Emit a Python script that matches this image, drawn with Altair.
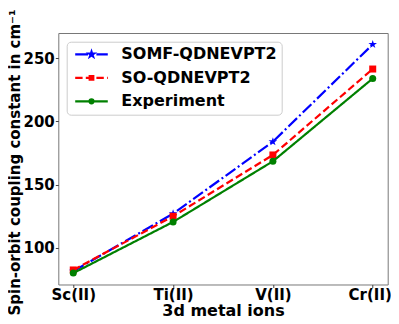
import math
import altair as alt
import pandas as pd

# ---- data ----
ions = ["Sc(II)", "Ti(II)", "V(II)", "Cr(II)"]
series_names = ["SOMF-QDNEVPT2", "SO-QDNEVPT2", "Experiment"]
somf = [81.5, 127.0, 184.0, 261.0]
so = [82.5, 125.0, 173.5, 241.5]
exp = [80.0, 120.5, 168.5, 234.0]
y_ticks = [100, 150, 200, 250]

# ---- styles ----
colors = ["#0000ff", "#ff0000", "#008000"]
dashes = [[12, 3, 2, 3], [7.5, 3.5], [1, 0]]


def star_path(cx=0.0, r=1.0, inner=0.382):
    pts = []
    for k in range(10):
        ang = math.radians(-90 + 36 * k)
        rr = r if k % 2 == 0 else r * inner
        pts.append((cx + rr * math.cos(ang), rr * math.sin(ang)))
    return "M" + "L".join(f"{x:.3f},{y:.3f}" for x, y in pts) + "Z"


def square_path(cx, h):
    return f"M{cx-h:.3f},{-h:.3f}L{cx+h:.3f},{-h:.3f}L{cx+h:.3f},{h:.3f}L{cx-h:.3f},{h:.3f}Z"


def circle_path(cx, r):
    return (f"M{cx+r:.3f},0A{r:.3f},{r:.3f} 0 1,1 {cx-r:.3f},0"
            f"A{r:.3f},{r:.3f} 0 1,1 {cx+r:.3f},0Z")


def segs(lst):
    return "".join(f"M{a:.3f},0L{b:.3f},0" for a, b in lst)


mc = 3.05  # legend marker centre (path units, 4px per unit)
legend_paths = [
    segs([(-1.025, 2.175), (4.275, 7.125)]) + star_path(mc, 0.65),
    segs([(-1.025, 0.825), (1.625, 3.475), (4.275, 6.125), (6.925, 7.125)]) + square_path(mc, 0.45),
    segs([(-1.025, 7.125)]) + circle_path(mc, 0.5),
]
marker_shapes = [star_path(0, 1.0), "square", "circle"]
marker_sizes = [81, 49, 49]

rows = []
for name, vals in zip(series_names, [somf, so, exp]):
    for ion, v in zip(ions, vals):
        rows.append({"ion": ion, "value": v, "series": name})
df = pd.DataFrame(rows)

base = alt.Chart(df)

x = alt.X(
    "ion:N",
    sort=ions,
    scale=alt.Scale(type="point", padding=0.15, domain=ions),
    axis=alt.Axis(
        title="3d metal ions",
        labelAngle=0,
        labelPadding=0,
        titlePadding=0,
        labelOffset={"condition": {"test": "datum.value === 'Cr(II)'", "value": -3}, "value": 0},
    ),
)
y = alt.Y(
    "value:Q",
    scale=alt.Scale(domain=[71, 270], nice=False, zero=False),
    axis=alt.Axis(
        title="Spin-orbit coupling constant in cm⁻¹",
        values=y_ticks,
        labelPadding=1,
        titlePadding=0,
        titleFontSize=15,
        titleY=129,
    ),
)

layers = []
for name, col, dash, shp, sz in zip(series_names, colors, dashes, marker_shapes, marker_sizes):
    sub = base.transform_filter(alt.datum.series == name)
    layers.append(
        sub.mark_line(color=col, strokeDash=dash, strokeWidth=2.2).encode(x=x, y=y)
    )
    layers.append(
        sub.mark_point(filled=True, opacity=1, color=col, shape=shp, size=sz, strokeWidth=0).encode(x=x, y=y)
    )

leg = alt.Legend(
    title=None,
    orient="none",
    legendX=8.4,
    legendY=8.7,
    symbolSize=64,
    symbolStrokeWidth=2.2,
    labelFont="DejaVu Sans",
    labelFontSize=16,
    labelFontWeight="bold",
    labelColor="black",
    labelOffset=34,
    labelLimit=400,
    rowPadding=7.5,
    padding=4.6,
    fillColor="rgba(255,255,255,0.8)",
    strokeColor="#cccccc",
    cornerRadius=4,
)

legend_layer = base.transform_filter("false").mark_point(filled=True, opacity=1).encode(
    fill=alt.Fill("series:N", scale=alt.Scale(domain=series_names, range=colors), legend=leg),
    stroke=alt.Stroke("series:N", scale=alt.Scale(domain=series_names, range=colors), legend=leg),
    shape=alt.Shape("series:N", scale=alt.Scale(domain=series_names, range=legend_paths), legend=leg),
)

chart = (
    alt.layer(*layers, legend_layer)
    .properties(
        width=329.4,
        height=251.5,
        autosize=alt.AutoSizeParams(type="none"),
        padding={"left": 50.3, "top": 25, "right": 3, "bottom": 31},
    )
    .configure_view(stroke="#777777", strokeWidth=1)
    .configure_axis(
        labelFont="DejaVu Sans",
        labelFontWeight="bold",
        labelFontSize=15,
        labelColor="black",
        titleFont="DejaVu Sans",
        titleFontWeight="bold",
        titleFontSize=16,
        titleColor="black",
        domain=False,
        grid=False,
        tickColor="#444444",
        tickSize=3,
    )
)

chart.save("out.html", embed_options={"renderer": "svg", "actions": False})
